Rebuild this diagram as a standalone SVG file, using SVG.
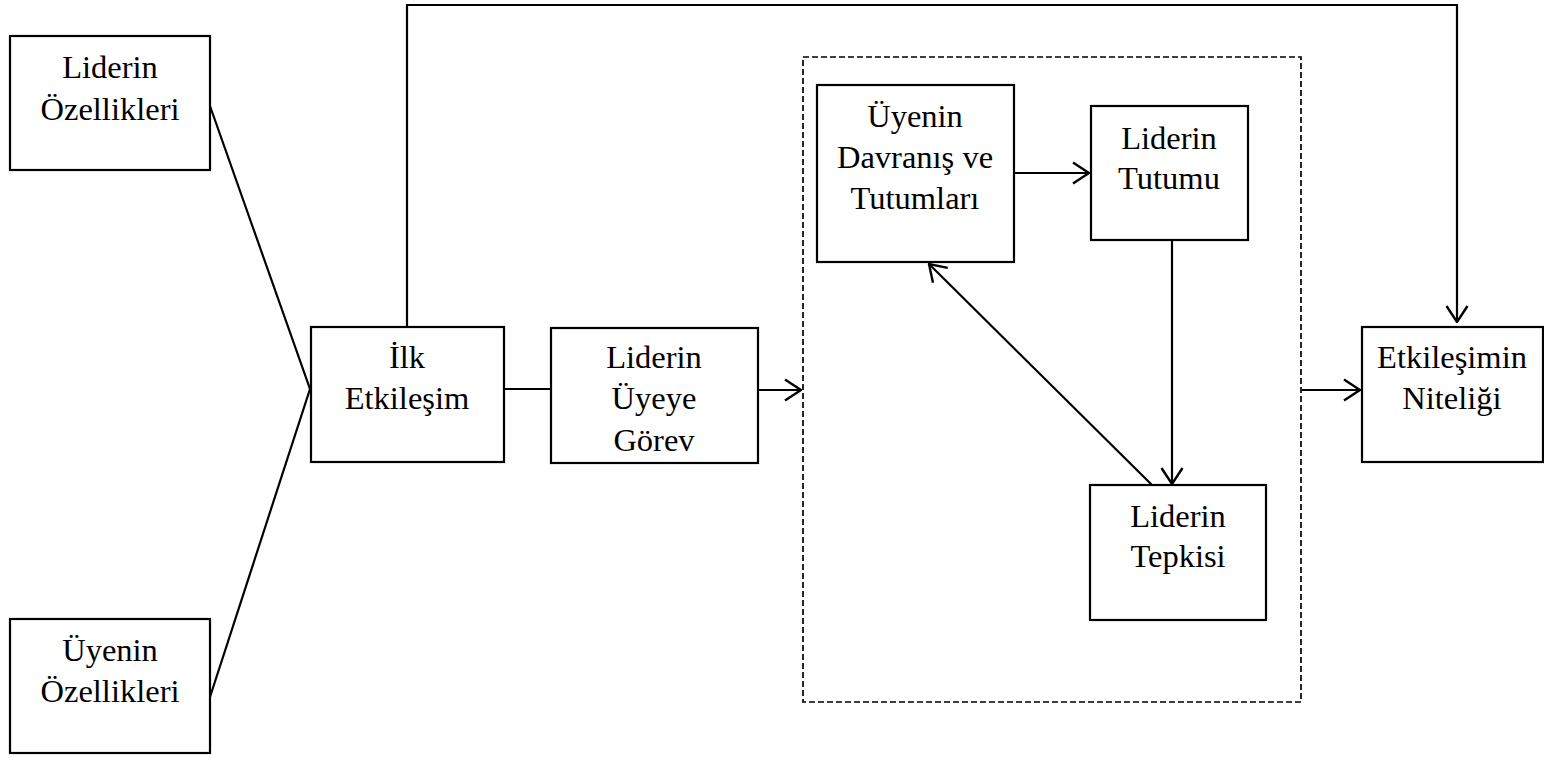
<svg xmlns="http://www.w3.org/2000/svg" width="1544" height="758" viewBox="0 0 1544 758">
  <style>
    .box { fill: #ffffff; stroke: #000000; stroke-width: 2.2; }
    .frame { fill: none; stroke: #000000; stroke-width: 1.7; stroke-dasharray: 6 3; }
    .link { fill: none; stroke: #000000; stroke-width: 2.2; }
    .label { font-family: "Liberation Serif", "Times New Roman", serif; font-size: 32.5px; fill: #000000; text-anchor: middle; }
  </style>
  <defs>
    <marker id="arrow" viewBox="0 0 18 24" refX="17" refY="12" markerWidth="18" markerHeight="24" markerUnits="userSpaceOnUse" orient="auto">
      <path d="M1,1.5 L17,12 L1,22.5" fill="none" stroke="#000000" stroke-width="2.4"/>
    </marker>
  </defs>

  <rect width="1544" height="758" fill="#ffffff"/>

  <!-- dashed grouping frame around the exchange cycle -->
  <rect id="exchange-frame" class="frame" x="803" y="57" width="498" height="645"/>

  <!-- connectors -->
  <g id="connectors">
    <polyline class="link" points="210,106 310,389 210,697"/>
    <line class="link" x1="504" y1="389" x2="551" y2="389"/>
    <polyline class="link" points="407,327 407,5 1457,5 1457,322" marker-end="url(#arrow)"/>
    <line class="link" x1="758" y1="390" x2="801" y2="390" marker-end="url(#arrow)"/>
    <line class="link" x1="1302" y1="390" x2="1360" y2="390" marker-end="url(#arrow)"/>
    <line class="link" x1="1014" y1="173" x2="1089" y2="173" marker-end="url(#arrow)"/>
    <line class="link" x1="1172" y1="240" x2="1172" y2="484" marker-end="url(#arrow)"/>
    <line class="link" x1="1152" y1="485" x2="929" y2="264" marker-end="url(#arrow)"/>
  </g>

  <g id="leader-traits">
    <rect class="box" x="10" y="36" width="200" height="134"/>
    <text class="label" x="110" y="78">Liderin</text>
    <text class="label" x="110" y="120">Özellikleri</text>
  </g>

  <g id="member-traits">
    <rect class="box" x="10" y="619" width="200" height="134"/>
    <text class="label" x="110" y="661">Üyenin</text>
    <text class="label" x="110" y="702">Özellikleri</text>
  </g>

  <g id="first-interaction">
    <rect class="box" x="311" y="327" width="193" height="135"/>
    <text class="label" x="407" y="368">İlk</text>
    <text class="label" x="407" y="409">Etkileşim</text>
  </g>

  <g id="task-assignment">
    <rect class="box" x="551" y="328" width="207" height="135"/>
    <text class="label" x="654" y="368">Liderin</text>
    <text class="label" x="654" y="409">Üyeye</text>
    <text class="label" x="654" y="451">Görev</text>
  </g>

  <g id="member-behaviour">
    <rect class="box" x="817" y="85" width="197" height="177"/>
    <text class="label" x="915" y="127">Üyenin</text>
    <text class="label" x="915" y="168">Davranış ve</text>
    <text class="label" x="915" y="209">Tutumları</text>
  </g>

  <g id="leader-attitude">
    <rect class="box" x="1091" y="106" width="157" height="134"/>
    <text class="label" x="1169" y="149">Liderin</text>
    <text class="label" x="1169" y="189">Tutumu</text>
  </g>

  <g id="leader-response">
    <rect class="box" x="1090" y="485" width="176" height="135"/>
    <text class="label" x="1178" y="527">Liderin</text>
    <text class="label" x="1178" y="567">Tepkisi</text>
  </g>

  <g id="interaction-quality">
    <rect class="box" x="1362" y="327" width="181" height="135"/>
    <text class="label" x="1452" y="368">Etkileşimin</text>
    <text class="label" x="1452" y="409">Niteliği</text>
  </g>
</svg>
